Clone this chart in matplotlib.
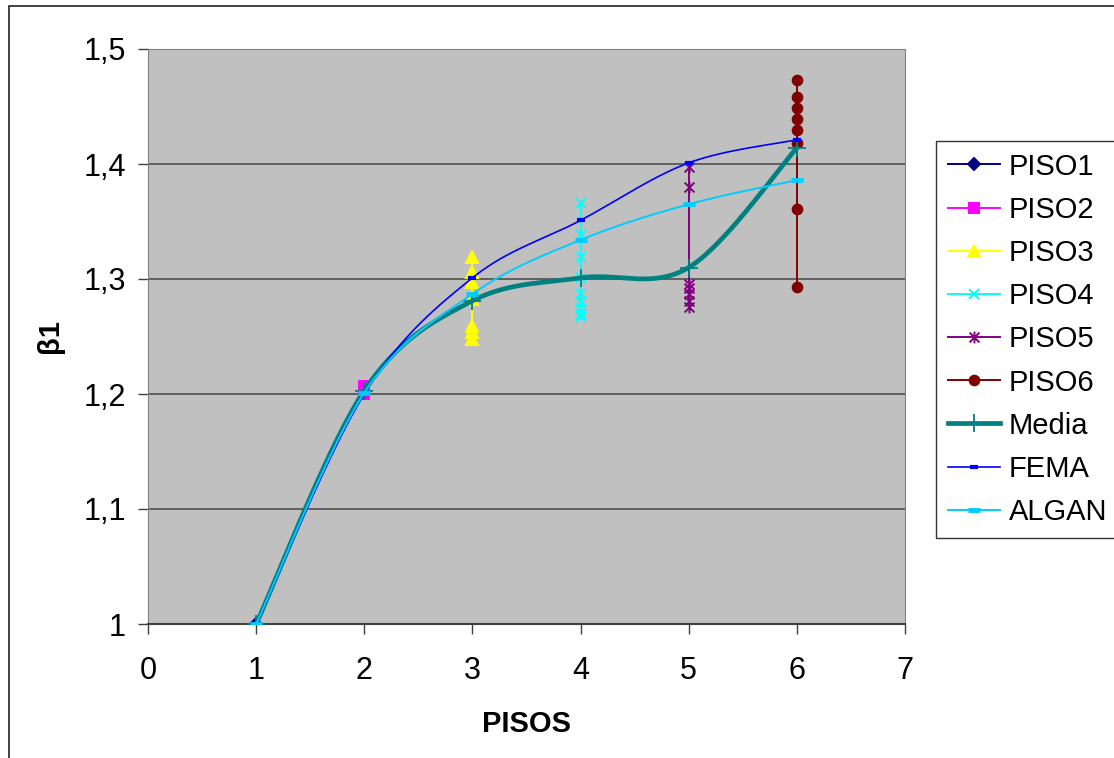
import numpy as np
import matplotlib
matplotlib.use('Agg')
import matplotlib.pyplot as plt
from matplotlib.path import Path
from matplotlib.patches import Rectangle
from matplotlib.lines import Line2D

plt.rcParams['font.family'] = ['Liberation Sans', 'DejaVu Sans']

############### data
pisos = [1, 2, 3, 4, 5, 6]

piso1 = [1.000]
piso2 = [1.200, 1.207]
piso3 = [1.319, 1.306, 1.297, 1.283, 1.259, 1.254, 1.248]
piso4 = [1.366, 1.338, 1.319, 1.301, 1.287, 1.280, 1.275, 1.270, 1.267]
piso5 = [1.397, 1.380, 1.296, 1.292, 1.287, 1.281, 1.276]
piso6 = [1.473, 1.458, 1.449, 1.439, 1.430, 1.418, 1.361, 1.293]

media = [1.000, 1.203, 1.281, 1.301, 1.310, 1.414]
fema = [1.000, 1.200, 1.301, 1.351, 1.401, 1.421]
algan = [1.000, 1.201, 1.287, 1.334, 1.365, 1.386]

x_ticks = [0, 1, 2, 3, 4, 5, 6, 7]
y_ticks = [1.0, 1.1, 1.2, 1.3, 1.4, 1.5]
y_tick_labels = ['1', '1,1', '1,2', '1,3', '1,4', '1,5']


def smooth(xs, ys, n=40):
    # Catmull-Rom style bezier smoothing, as spreadsheet "smoothed line"
    pts = np.column_stack([xs, ys]).astype(float)
    ext = np.vstack([pts[0], pts, pts[-1]])
    out = []
    for i in range(len(pts) - 1):
        p0, p1, p2, p3 = ext[i], ext[i + 1], ext[i + 2], ext[i + 3]
        c1 = p1 + (p2 - p0) / 6.0
        c2 = p2 - (p3 - p1) / 6.0
        t = np.linspace(0, 1, n)[:, None]
        seg = ((1 - t) ** 3) * p1 + 3 * ((1 - t) ** 2) * t * c1 + 3 * (1 - t) * t ** 2 * c2 + t ** 3 * p2
        out.append(seg if i == 0 else seg[1:])
    out = np.vstack(out)
    return out[:, 0], out[:, 1]


# asterisk marker: an x with a vertical bar through it
ast_verts = [(-1, -1), (1, 1), (-1, 1), (1, -1), (0, -1.2), (0, 1.2)]
ast_codes = [Path.MOVETO, Path.LINETO, Path.MOVETO, Path.LINETO, Path.MOVETO, Path.LINETO]
asterisk = Path(ast_verts, ast_codes)

fig = plt.figure(figsize=(11.14, 7.58), dpi=100)
W, H = 1114.0, 758.0

# chart frame
fig.patches.append(Rectangle((9 / W, -0.1), 1.2, (758 - 6) / H + 0.1, transform=fig.transFigure,
                             fill=False, edgecolor='#202020', linewidth=1.2))

ax = fig.add_axes([148 / W, (758 - 624) / H, (905 - 148) / W, (624 - 49) / H])
ax.set_facecolor('#C0C0C0')

piso_style = [
    (piso1, '#000080', 'D', 6, 'PISO1'),
    (piso2, '#FF00FF', 's', 6.5, 'PISO2'),
    (piso3, '#FFFF00', '^', 8, 'PISO3'),
    (piso4, '#00FFFF', 'x', 7.5, 'PISO4'),
    (piso5, '#800080', asterisk, 8.5, 'PISO5'),
    (piso6, '#800000', 'o', 7, 'PISO6'),
]
for i, (vals, col, mk, ms, lab) in enumerate(piso_style):
    xs = [pisos[i]] * len(vals)
    ax.plot(xs, vals, color=col, lw=1.4, marker=mk, markersize=ms,
            markerfacecolor=col, markeredgecolor=col, markeredgewidth=1.4, label=lab, zorder=3)

xm, ym = smooth(pisos, media)
ax.plot(xm, ym, color='#008080', lw=3.4, zorder=4, solid_capstyle='round')
ax.plot(pisos, media, ls='none', marker='+', markersize=13, markeredgewidth=1.3, color='#008080', zorder=4)

xf, yf = smooth(pisos, fema)
ax.plot(xf, yf, color='#0000FF', lw=1.2, zorder=5)
ax.plot(pisos, fema, ls='none', marker='_', markersize=6, markeredgewidth=3, color='#0000FF', zorder=5)

xa, ya = smooth(pisos, algan)
ax.plot(xa, ya, color='#00CCFF', lw=1.4, zorder=6)
ax.plot(pisos, algan, ls='none', marker='_', markersize=8, markeredgewidth=3.5, color='#00CCFF', zorder=6)

ax.set_xlim(0, 7)
ax.set_ylim(1.0, 1.5)
ax.set_xticks(x_ticks)
ax.set_yticks(y_ticks)
ax.set_yticklabels(y_tick_labels)
ax.tick_params(direction='out', length=7, width=1, color='#404040', labelsize=22)
ax.tick_params(axis='x', pad=16)
ax.tick_params(axis='y', pad=9)
ax.yaxis.grid(True, color='#505050', lw=1.2)
ax.set_axisbelow(True)
for side in ['left', 'right', 'top']:
    ax.spines[side].set_color('#808080')
ax.spines['bottom'].set_color('#404040')
ax.spines['bottom'].set_linewidth(1.5)

ax.set_xlabel('PISOS', fontsize=21, fontweight='bold', labelpad=17)
ax.set_ylabel('β1', fontsize=21, fontweight='bold', labelpad=14)

# legend handles
handles = [Line2D([], [], color=c, lw=1.4, marker=m, markersize=s, markerfacecolor=c,
                  markeredgecolor=c, markeredgewidth=1.4) for (_, c, m, s, _) in piso_style]
handles.append(Line2D([], [], color='#008080', lw=3.4, marker='+', markersize=13, markeredgewidth=1.3))
handles.append(Line2D([], [], color='#0000FF', lw=1.2, marker='_', markersize=6, markeredgewidth=3))
handles.append(Line2D([], [], color='#00CCFF', lw=1.4, marker='_', markersize=8, markeredgewidth=3.5))
labels = [p[4] for p in piso_style] + ['Media', 'FEMA', 'ALGAN']

leg = fig.legend(handles, labels, loc='upper left', bbox_to_anchor=(936 / W, 1 - 141 / H),
                 frameon=True, fancybox=False, edgecolor='black', fontsize=21,
                 handlelength=1.8, handletextpad=0.3, labelspacing=0.52, borderpad=0.4,
                 borderaxespad=0)
leg.get_frame().set_linewidth(1.0)

fig.savefig('out.png', dpi=100)
